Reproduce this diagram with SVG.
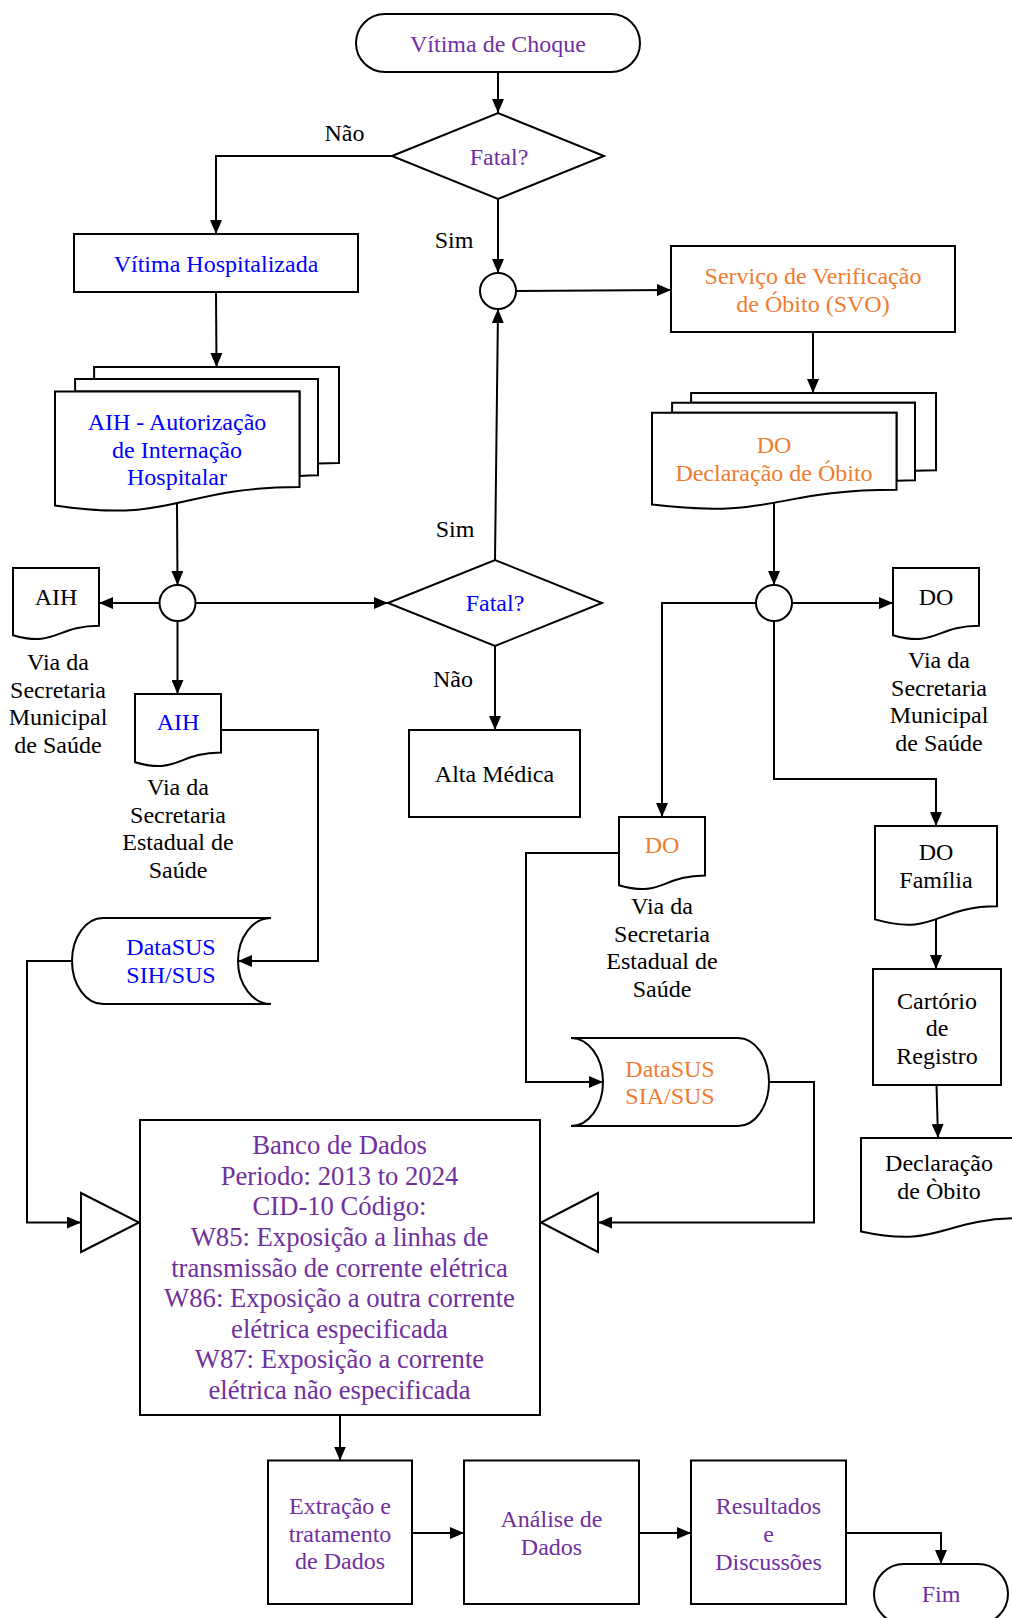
<svg xmlns="http://www.w3.org/2000/svg" width="1012" height="1618" viewBox="0 0 1012 1618">
  <style>
    .s { fill: #fff; stroke: #000; stroke-width: 2; }
    .c { fill: none; stroke: #000; stroke-width: 2; }
    text { font-family: "Liberation Serif", "Times New Roman", serif; font-size: 24px; text-anchor: middle; fill: #000; }
    .pu { fill: #7030A0; }
    .bl { fill: #0000FF; }
    .or { fill: #ED7D31; }
    .big { font-size: 26.67px; }
  </style>
  <defs>
    <marker id="ah" viewBox="0 0 14 12" refX="14" refY="6" markerWidth="14" markerHeight="12" markerUnits="userSpaceOnUse" orient="auto">
      <path d="M0,0 L14,6 L0,12 Z" fill="#000"/>
    </marker>
  </defs>
  <rect width="1012" height="1618" fill="#fff"/>

  <!-- connectors -->
  <g id="connectors" class="c" marker-end="url(#ah)">
    <path d="M498,72 V113"/>
    <path d="M392,156 H216 V234"/>
    <path d="M498,199 V273"/>
    <path d="M516,291 L671,290"/>
    <path d="M813,332 V393"/>
    <path d="M216,292 L216.5,367"/>
    <path d="M177,503 L177.5,585"/>
    <path d="M159.5,603 H99"/>
    <path d="M195.5,603 H388"/>
    <path d="M177.5,621 V694"/>
    <path d="M495,560 L498,309"/>
    <path d="M495,646 V730"/>
    <path d="M221,730 H318 V961 H238"/>
    <path d="M72,961 H27 V1222.5 H81"/>
    <path d="M774,503 V585"/>
    <path d="M792,603 H893"/>
    <path d="M756,603 H662 V817"/>
    <path d="M774,621 V779 H936 V826"/>
    <path d="M619,853 H526 V1082 H603"/>
    <path d="M769,1082 H814 V1222.5 H598"/>
    <path d="M936,920 V969"/>
    <path d="M936.5,1085 L938,1138"/>
    <path d="M340,1415 V1460.5"/>
    <path d="M412,1533 H464"/>
    <path d="M639,1533 H691"/>
    <path d="M846,1533 H941 V1564"/>
  </g>

  <!-- start -->
  <g id="start">
    <rect class="s" x="356" y="14" width="284" height="58" rx="29"/>
    <text class="pu" x="498" y="52">Vítima de Choque</text>
  </g>

  <g id="fatal1">
    <path class="s" d="M392,156 L498,113 L604,156 L498,199 Z"/>
    <text class="pu" x="499" y="165">Fatal?</text>
  </g>

  <g id="labels">
    <text x="344.5" y="141">Não</text>
    <text x="454" y="248">Sim</text>
    <text x="455" y="537">Sim</text>
    <text x="453" y="687">Não</text>
  </g>

  <g id="hospitalizada">
    <rect class="s" x="74" y="234" width="284" height="58"/>
    <text class="bl" x="216" y="271.5">Vítima Hospitalizada</text>
  </g>

  <g id="junction1">
    <circle class="s" cx="498" cy="291" r="18"/>
  </g>

  <g id="svo">
    <rect class="s" x="671" y="246" width="284" height="86"/>
    <text class="or" x="813" y="283.5">Serviço de Verificação</text>
    <text class="or" x="813" y="311.5">de Óbito (SVO)</text>
  </g>

  <!-- AIH multi-document -->
  <g id="aih-docs">
    <path class="s" d="M94.1,379.1 L94.1,367 L339,367 L339,462.9 C328.5,462.9 318,463.4 318,463.4 L318,379.1 Z"/>
    <path class="s" d="M75.1,391.5 L75.1,379.1 L318,379.1 L318,475.3 C308.7,475.3 299.5,476 299.5,476 L299.5,391.5 Z"/>
    <path class="s" d="M55,505.5 C177.25,523.9 177.25,487.1 299.5,487.1 L299.5,391.5 L55,391.5 Z"/>
    <text class="bl" x="177" y="430">AIH - Autorização</text>
    <text class="bl" x="177" y="457.5">de Internação</text>
    <text class="bl" x="177" y="485">Hospitalar</text>
  </g>

  <!-- DO multi-document -->
  <g id="do-docs">
    <path class="s" d="M691.1,402.75 L691.1,393 L936,393 L936,470.3 C925.5,470.3 915,470.7 915,470.7 L915,402.75 Z"/>
    <path class="s" d="M672.1,412.7 L672.1,402.75 L915,402.75 L915,480.3 C905.7,480.3 896.5,480.8 896.5,480.8 L896.5,412.7 Z"/>
    <path class="s" d="M652,504.6 C774.25,519.4 774.25,489.8 896.5,489.8 L896.5,412.7 L652,412.7 Z"/>
    <text class="or" x="774" y="453">DO</text>
    <text class="or" x="774" y="480.5">Declaração de Óbito</text>
  </g>

  <g id="junction2">
    <circle class="s" cx="177.5" cy="603" r="18"/>
  </g>

  <g id="junction3">
    <circle class="s" cx="774" cy="603" r="18"/>
  </g>

  <g id="aih-municipal">
    <path class="s" d="M13,568 H99 V625.7 C56,625.7 56,647.7 13,635.2 Z"/>
    <text x="56" y="605">AIH</text>
    <text x="58" y="670">Via da</text>
    <text x="58" y="697.5">Secretaria</text>
    <text x="58" y="725">Municipal</text>
    <text x="58" y="752.5">de Saúde</text>
  </g>

  <g id="do-municipal">
    <path class="s" d="M893,568 H979 V625.7 C936,625.7 936,647.7 893,635.2 Z"/>
    <text x="936" y="605">DO</text>
    <text x="939" y="668">Via da</text>
    <text x="939" y="695.5">Secretaria</text>
    <text x="939" y="723">Municipal</text>
    <text x="939" y="750.5">de Saúde</text>
  </g>

  <g id="fatal2">
    <path class="s" d="M388,603 L495,560 L602,603 L495,646 Z"/>
    <text class="bl" x="495" y="611">Fatal?</text>
  </g>

  <g id="alta">
    <rect class="s" x="409" y="730" width="171" height="87"/>
    <text x="494.5" y="781.5">Alta Médica</text>
  </g>

  <g id="aih-estadual">
    <path class="s" d="M135,694 H221 V752.5 C178,752.5 178,774.8 135,762.2 Z"/>
    <text class="bl" x="178" y="730">AIH</text>
    <text x="178" y="795">Via da</text>
    <text x="178" y="822.5">Secretaria</text>
    <text x="178" y="850">Estadual de</text>
    <text x="178" y="877.5">Saúde</text>
  </g>

  <g id="do-estadual">
    <path class="s" d="M619,817 H705 V875.5 C662,875.5 662,897.8 619,885.2 Z"/>
    <text class="or" x="662" y="853">DO</text>
    <text x="662" y="914">Via da</text>
    <text x="662" y="941.5">Secretaria</text>
    <text x="662" y="969">Estadual de</text>
    <text x="662" y="996.5">Saúde</text>
  </g>

  <g id="do-familia">
    <path class="s" d="M875,826 H997 V906.2 C936,906.2 936,936.75 875,919.4 Z"/>
    <text x="936" y="860">DO</text>
    <text x="936" y="887.5">Família</text>
  </g>

  <g id="cartorio">
    <rect class="s" x="873" y="969" width="128" height="116"/>
    <text x="937" y="1008.5">Cartório</text>
    <text x="937" y="1036">de</text>
    <text x="937" y="1063.5">Registro</text>
  </g>

  <g id="declaracao">
    <path class="s" d="M861,1138 H1021 V1218.2 C941,1218.2 941,1248.75 861,1231.4 Z"/>
    <text x="939" y="1171">Declaração</text>
    <text x="939" y="1199">de Òbito</text>
  </g>

  <g id="sih">
    <path class="s" d="M103,918 H271 A33,43 0 0 0 271,1004 H103 A31,43 0 0 1 103,918 Z"/>
    <text class="bl" x="171" y="955">DataSUS</text>
    <text class="bl" x="171" y="982.5">SIH/SUS</text>
  </g>

  <g id="sia">
    <path class="s" d="M571,1038 H738 A31,44 0 0 1 738,1126 H571 A32,44 0 0 0 571,1038 Z"/>
    <text class="or" x="670" y="1077">DataSUS</text>
    <text class="or" x="670" y="1104">SIA/SUS</text>
  </g>

  <g id="merge-left">
    <path class="s" d="M81,1193 L81,1252 L139,1222.5 Z"/>
  </g>

  <g id="merge-right">
    <path class="s" d="M598,1193 L598,1252 L541,1222.5 Z"/>
  </g>

  <g id="banco">
    <rect class="s" x="140" y="1120" width="400" height="295"/>
    <g class="big">
      <text class="pu big" x="339.5" y="1154">Banco de Dados</text>
      <text class="pu big" x="339.5" y="1184.6">Periodo: 2013 to 2024</text>
      <text class="pu big" x="339.5" y="1215.3">CID-10 Código:</text>
      <text class="pu big" x="339.5" y="1245.9">W85: Exposição a linhas de</text>
      <text class="pu big" x="339.5" y="1276.5">transmissão de corrente elétrica</text>
      <text class="pu big" x="339.5" y="1307.1">W86: Exposição a outra corrente</text>
      <text class="pu big" x="339.5" y="1337.7">elétrica especificada</text>
      <text class="pu big" x="339.5" y="1368.3">W87: Exposição a corrente</text>
      <text class="pu big" x="339.5" y="1398.9">elétrica não especificada</text>
    </g>
  </g>

  <g id="extracao">
    <rect class="s" x="268" y="1460.5" width="144" height="143.5"/>
    <text class="pu" x="340" y="1513.5">Extração e</text>
    <text class="pu" x="340" y="1541.5">tratamento</text>
    <text class="pu" x="340" y="1569">de Dados</text>
  </g>

  <g id="analise">
    <rect class="s" x="464" y="1460.5" width="175" height="143.5"/>
    <text class="pu" x="551.5" y="1527">Análise de</text>
    <text class="pu" x="551.5" y="1554.5">Dados</text>
  </g>

  <g id="resultados">
    <rect class="s" x="691" y="1460.5" width="155" height="143.5"/>
    <text class="pu" x="768.5" y="1513.5">Resultados</text>
    <text class="pu" x="768.5" y="1541.5">e</text>
    <text class="pu" x="768.5" y="1569.5">Discussões</text>
  </g>

  <g id="fim">
    <rect class="s" x="874" y="1564" width="134" height="60" rx="30"/>
    <text class="pu" x="941" y="1601.5">Fim</text>
  </g>
</svg>
